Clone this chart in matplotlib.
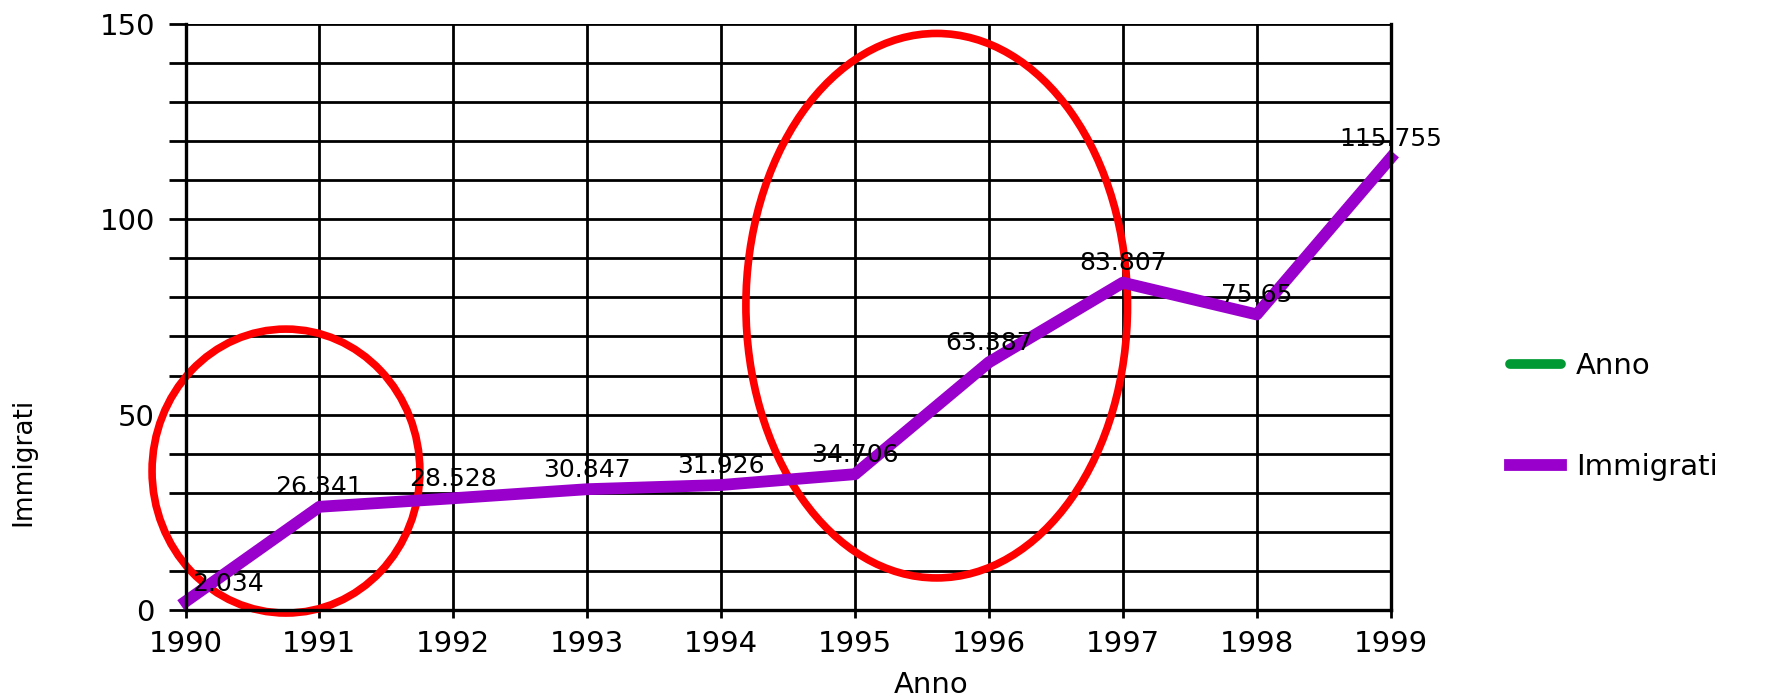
import matplotlib.pyplot as plt
from matplotlib.patches import Ellipse
from matplotlib.ticker import MultipleLocator

# Data
anni = [1990, 1991, 1992, 1993, 1994, 1995, 1996, 1997, 1998, 1999]
immigrati = [2.034, 26.341, 28.528, 30.847, 31.926, 34.706, 63.387, 83.807, 75.65, 115.755]
etichette = ["2.034", "26.341", "28.528", "30.847", "31.926", "34.706",
             "63.387", "83.807", "75.65", "115.755"]

plt.rcParams["font.family"] = ["DejaVu Sans"]

fig = plt.figure(figsize=(17.67, 6.99), dpi=100)
ax = fig.add_axes([0.105, 0.128, 0.682, 0.837])

# Grid
ax.set_xlim(1990, 1999)
ax.set_ylim(0, 150)
ax.set_xticks(anni)
ax.yaxis.set_major_locator(MultipleLocator(50))
ax.yaxis.set_minor_locator(MultipleLocator(10))
ax.grid(True, which="both", color="black", linewidth=2)
ax.set_axisbelow(True)
for s in ax.spines.values():
    s.set_linewidth(2.4)
ax.spines["top"].set_visible(False)
ax.tick_params(axis="both", which="both", direction="out", width=2, color="black")
ax.tick_params(axis="y", which="both", length=12, pad=10, labelsize=21)
ax.tick_params(axis="x", length=6, pad=9, labelsize=21)

# Series
ax.plot([], [], color="#009933", linewidth=7, solid_capstyle="round", label="Anno")
ax.plot(anni, immigrati, color="#9900CC", linewidth=8.5, label="Immigrati", clip_on=False)

for x, y, t in zip(anni, immigrati, etichette):
    if x == anni[0]:
        ax.annotate(t, (x, y), xytext=(5, 13), textcoords="offset points",
                    ha="left", va="center", fontsize=18)
    else:
        ax.annotate(t, (x, y), xytext=(0, 14), textcoords="offset points",
                    ha="center", va="center", fontsize=18)

# Red ellipses
ax.add_patch(Ellipse((1990.75, 35.5), 2.0, 72.8, fill=False, edgecolor="red",
                     linewidth=5.5, clip_on=False))
ax.add_patch(Ellipse((1995.61, 77.9), 2.85, 139.6, fill=False, edgecolor="red",
                     linewidth=5.5, clip_on=False))

ax.set_xlabel("Anno", fontsize=21)
ax.xaxis.set_label_coords(0.619, -0.105)
ax.set_ylabel("Immigrati", fontsize=19)
ax.yaxis.set_label_coords(-0.124, 0.2525)

ax.legend(loc="center left", bbox_to_anchor=(0.8546, 0.404), bbox_transform=fig.transFigure,
          frameon=False, fontsize=21, handlelength=1.75, handletextpad=0.5,
          labelspacing=2.5, borderpad=0, borderaxespad=0)

fig.savefig("out.png", dpi=100)
